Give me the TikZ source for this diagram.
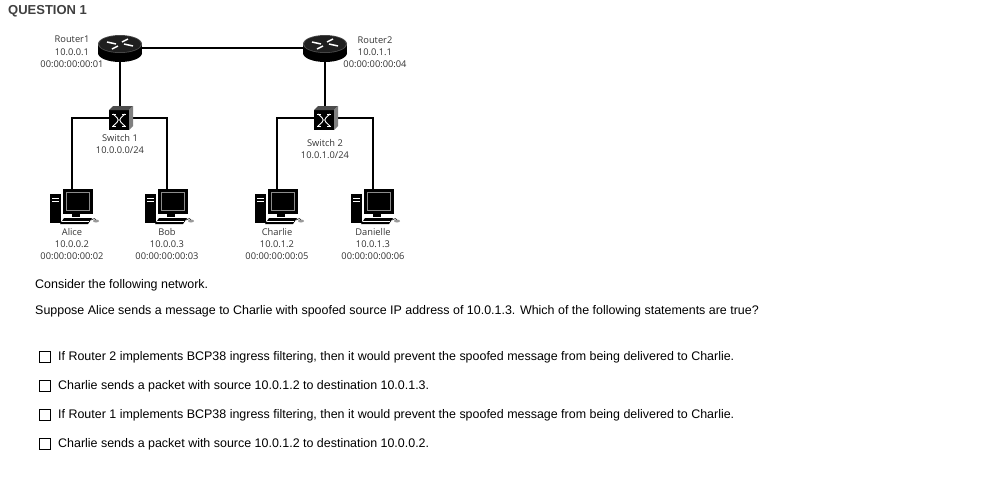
\documentclass[tikz,border=0pt]{standalone}
\usepackage{fontspec}
\setmainfont{Liberation Sans}
\newfontfamily\lab{Open Sans}
\begin{document}
\begin{tikzpicture}[x=1pt,y=-1pt,
 lbl/.style={font=\lab\fontsize{9.3}{12.3}\selectfont,text=black!80,align=center,inner sep=0pt},
 txt/.style={font=\fontsize{12.45}{14}\selectfont,anchor=west,inner sep=0pt},
 box/.style={draw,line width=1.1pt,minimum size=11pt,inner sep=0pt},
 wire/.style={line width=1.6pt}]
\useasboundingbox (0,0) rectangle (989,488);
\node[font=\bfseries\fontsize{13}{15}\selectfont,text=black!75,anchor=west,inner sep=0pt] (q) at (8,11) {QUESTION 1};
% positions
\coordinate (r1) at (120,48); \coordinate (r2) at (325,48);
\coordinate (s1) at (120,118); \coordinate (s2) at (325,118);
\foreach \n/\x in {a/72,b/167,c/277,d/373} \coordinate (\n) at (\x,205);
% wires
\draw[wire] (r1) -- (r2);
\draw[wire] (r1) -- (s1); \draw[wire] (r2) -- (s2);
\draw[wire] (a) |- (s1) -| (b);
\draw[wire] (c) |- (s2) -| (d);
% routers
\foreach \r in {r1,r2}{
 \begin{scope}[shift={(\r)}]
 \fill (-22,-4) rectangle (22,5);
 \fill (0,5) ellipse (22 and 9);
 \fill[black!70] (0,-4) ellipse (22 and 9);
 \fill[black!88] (0,-4) ellipse (21 and 8.2);
 \draw[white,line width=1.5pt] (-13,-6)--(-4,-4) (13,-2)--(4,-4) (-8,1)--(-2,-2) (8,-9)--(2,-6);
 \end{scope}}
% switches
\foreach \s in {s1,s2}{
 \begin{scope}[shift={(\s)}]
 \fill (-11,-8) rectangle (9,12);
 \fill[black!70] (-11,-8)--(-7,-12)--(13,-12)--(9,-8)--cycle;
 \fill[black!50] (9,-8)--(13,-12)--(13,8)--(9,12)--cycle;
 \draw[white,line width=0.9pt] (-7,-4) .. controls (0,2) .. (-7,8) (5,-4) .. controls (-2,2) .. (5,8);
 \draw[white,line width=0.9pt] (-8,-4)--(-4,-4) (-8,8)--(-4,8) (2,-4)--(6,-4) (2,8)--(6,8);
 \end{scope}}
% computers
\foreach \c in {a,b,c,d}{
 \begin{scope}[shift={(\c)}]
 \fill (-22,-11) rectangle (-11,18);
 \draw[white,line width=0.5pt] (-20,-7)--(-13,-7) (-20,-4)--(-13,-4);
 \fill (-9,-16) rectangle (21,9);
 \draw[black!45,line width=0.6pt] (-5.5,-12.5) rectangle (17.5,5.5);
 \fill (0,9) rectangle (8,12);
 \fill (-8,13) -- (20,13) -- (16,19) -- (-12,19) -- cycle;
 \draw[white,line width=0.4pt] (-10,16)--(17,16);
 \draw[black,line width=0.6pt] (19,15) .. controls (23,13) .. (24,16);
 \fill[black!40] (24,16) ellipse (3 and 1.5);
 \end{scope}}
% labels
\node[lbl] (lr1) at (72,52) {Router1\\10.0.0.1\\00:00:00:00:01};
\node[lbl] (lr2) at (375,52) {Router2\\10.0.1.1\\00:00:00:00:04};
\node[lbl] (ls1) at (120,144) {Switch 1\\10.0.0.0/24};
\node[lbl] (ls2) at (325,149) {Switch 2\\10.0.1.0/24};
\node[lbl] (la) at (72,244) {Alice\\10.0.0.2\\00:00:00:00:02};
\node[lbl] (lb) at (167,244) {Bob\\10.0.0.3\\00:00:00:00:03};
\node[lbl] (lc) at (277,244) {Charlie\\10.0.1.2\\00:00:00:00:05};
\node[lbl] (ld) at (373,244) {Danielle\\10.0.1.3\\00:00:00:00:06};
% question text
\node[txt] (t1) at (35,285) {Consider the following network.};
\node[txt] (t2) at (35,311) {Suppose Alice sends a message to Charlie with spoofed source IP address of 10.0.1.3. Which of the following statements are true?};
\foreach \y/\t in {357/{If Router 2 implements BCP38 ingress filtering, then it would prevent the spoofed message from being delivered to Charlie.},
 386/{Charlie sends a packet with source 10.0.1.2 to destination 10.0.1.3.},
 415/{If Router 1 implements BCP38 ingress filtering, then it would prevent the spoofed message from being delivered to Charlie.},
 444/{Charlie sends a packet with source 10.0.1.2 to destination 10.0.0.2.}}{
 \node[box] at (45,\y) {};
 \node[txt] at (58,\y) {\t};}
\end{tikzpicture}
\end{document}
